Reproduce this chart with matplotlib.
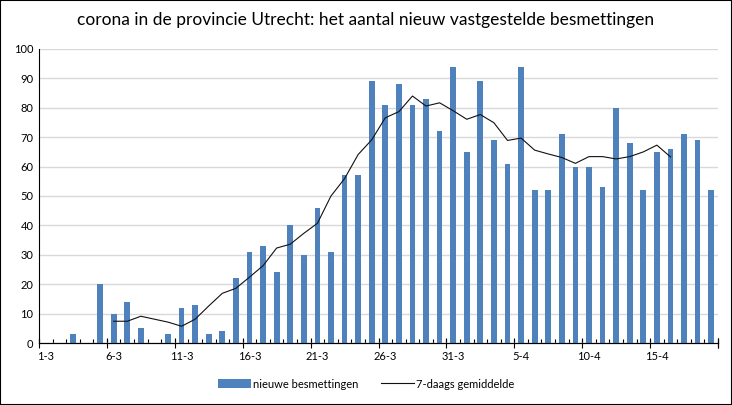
import numpy as np
import matplotlib
matplotlib.use("Agg")
import matplotlib.pyplot as plt
from matplotlib.patches import Rectangle

plt.rcParams['font.family'] = ['Lato', 'DejaVu Sans']

# dagen 1-3 t/m 19-4
dates = ['%d-3' % d for d in range(1, 32)] + ['%d-4' % d for d in range(1, 20)]
cases = [0, 0, 3, 0, 20, 10, 14, 5, 0, 3,
         12, 13, 3, 4, 22, 31, 33, 24, 40, 30,
         46, 31, 57, 57, 89, 81, 88, 81, 83, 72,
         94, 65, 89, 69, 61, 94, 52, 52, 71, 60,
         60, 53, 80, 68, 52, 65, 66, 71, 69, 52]
# 7-daags gemiddelde, van 6-3 t/m 16-4
avg_start = 5
avg7 = [7.4, 7.4, 9.1, 8.1, 7.1, 5.7, 8.1, 12.6, 16.9, 18.6,
        22.4, 26.3, 32.3, 33.6, 37.3, 40.7, 50.0, 55.9, 64.1, 69.1,
        76.6, 78.7, 84.0, 80.6, 81.7, 79.0, 76.1, 77.7, 74.9, 68.9,
        69.7, 65.6, 64.3, 63.1, 61.1, 63.4, 63.4, 62.6, 63.4, 65.0,
        67.3, 63.3]
label_every = 5

blue = '#4F81BD'

fig = plt.figure(figsize=(7.32, 4.05), dpi=100)
ax = fig.add_axes([39/732, 1-343/405, (718-39)/732, (343-49)/405])

x = np.arange(len(cases))
bars = ax.bar(x, cases, width=0.42, color=blue, zorder=2)
xa = np.arange(avg_start, avg_start + len(avg7))
line, = ax.plot(xa, avg7, color='#111111', lw=0.8, zorder=3)

ax.set_xlim(-0.5, len(cases) - 0.5)
ax.set_ylim(0, 100)
ax.set_yticks(np.arange(0, 101, 10))
ax.yaxis.grid(True, color='#d9d9d9', lw=1, zorder=0)
ax.set_axisbelow(True)

lab_pos = x[::label_every]
ax.set_xticks(lab_pos)
ax.set_xticklabels(dates[::label_every])
ax.set_xticks(np.arange(-0.5, len(cases), 1), minor=True)
ax.tick_params(axis='x', which='major', length=0, pad=6, labelsize=8)
ax.tick_params(axis='x', which='minor', direction='in', length=3, width=0.8, color='black')
ax.tick_params(axis='y', length=0, labelsize=8, pad=4)

sec = ax.secondary_xaxis('bottom')
sec.set_xticks(list(np.arange(-0.5, len(cases), label_every)) + [len(cases) - 0.5])
sec.set_xticklabels([])
sec.tick_params(direction='inout', length=7, width=0.8)

for s in ['top', 'right']:
    ax.spines[s].set_visible(False)
ax.spines['left'].set_linewidth(0.8)
ax.spines['bottom'].set_linewidth(0.8)

fig.text(0.5, 1 - 20/405, 'corona in de provincie Utrecht: het aantal nieuw vastgestelde besmettingen',
         ha='center', va='center', fontsize=12.5)

fig.legend([bars, line], ['nieuwe besmettingen', '7-daags gemiddelde'],
           loc='center', bbox_to_anchor=(0.5, 1 - 384/405), ncol=2, frameon=False,
           fontsize=8, handlelength=3.0, handleheight=0.8, columnspacing=2.0,
           handletextpad=0.2)

fig.patches.append(Rectangle((0, 0), 1, 1, transform=fig.transFigure, fill=False,
                             edgecolor='black', lw=1.5))

fig.savefig('out.png', dpi=100)
